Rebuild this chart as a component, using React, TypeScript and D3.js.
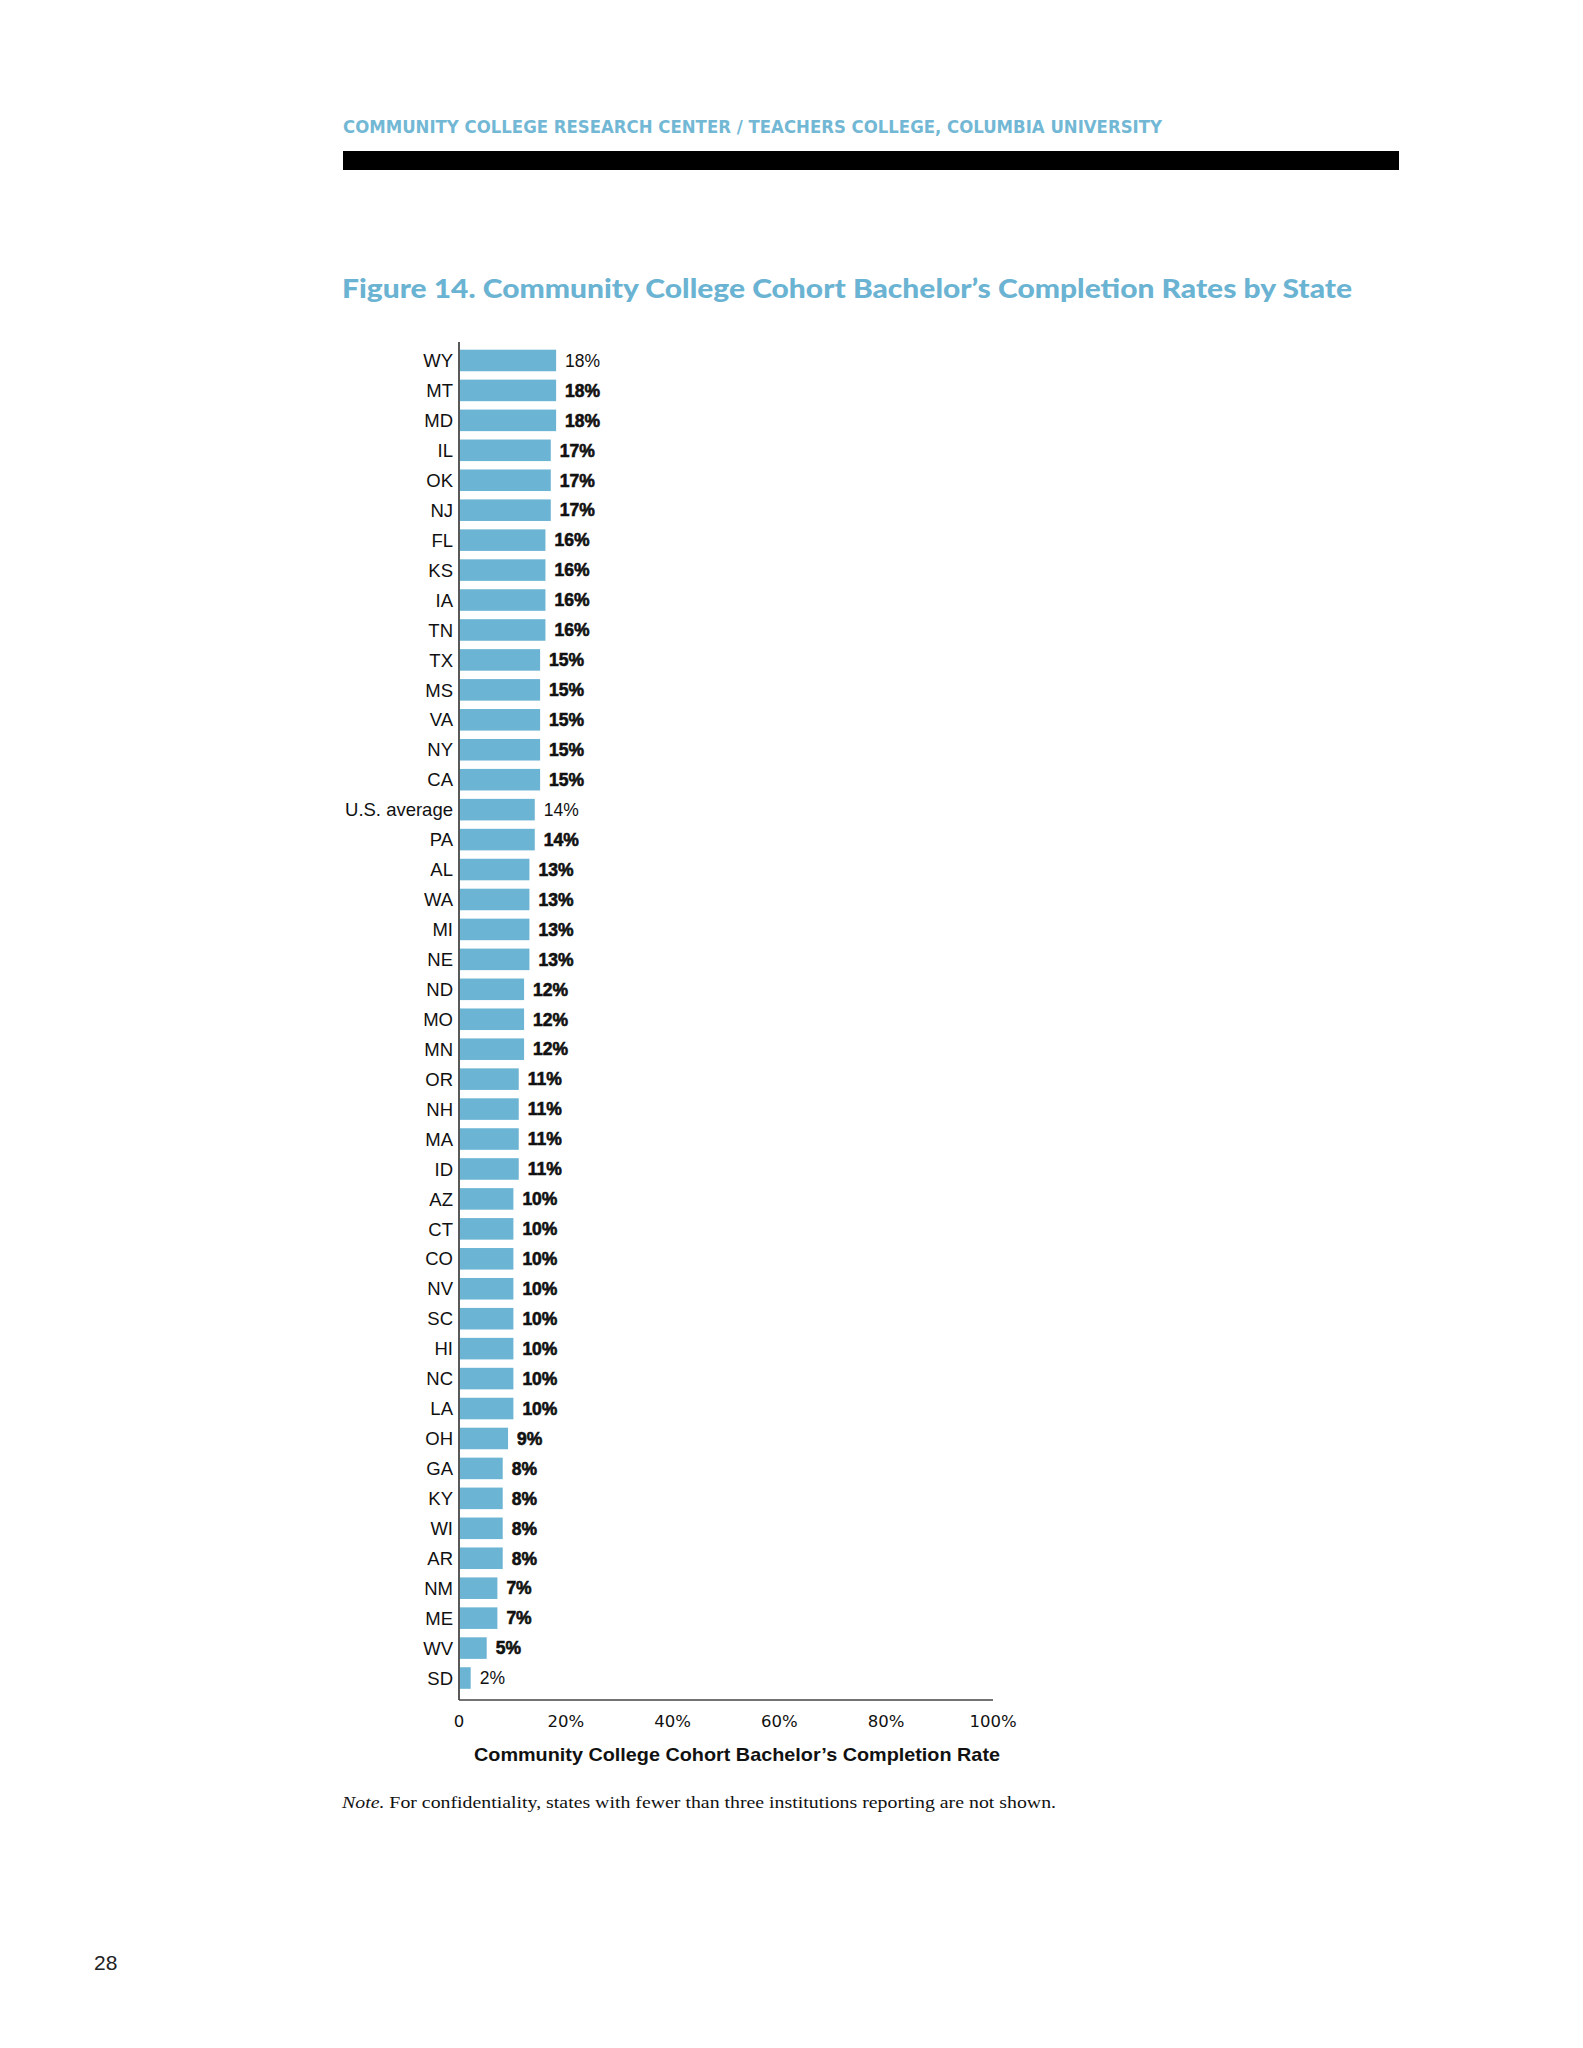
import React from "react";
import * as d3 from "d3";

const states = ["WY","MT","MD","IL","OK","NJ","FL","KS","IA","TN","TX","MS","VA","NY","CA","U.S. average","PA","AL","WA","MI","NE","ND","MO","MN","OR","NH","MA","ID","AZ","CT","CO","NV","SC","HI","NC","LA","OH","GA","KY","WI","AR","NM","ME","WV","SD"];
const rates = [18,18,18,17,17,17,16,16,16,16,15,15,15,15,15,14,14,13,13,13,13,12,12,12,11,11,11,11,10,10,10,10,10,10,10,10,9,8,8,8,8,7,7,5,2];
const regularLabels = ["WY","U.S. average","SD"];
const xTicks = [0,20,40,60,80,100];

const BLUE = "#6cb4d3";

export default function App() {
  const x = d3.scaleLinear().domain([0, 100]).range([459, 993]);
  const y = d3.scaleBand<string>().domain(states).range([345.5, 1693]).paddingInner(0.28).paddingOuter(0.14);
  const bw = y.bandwidth();
  return (
    <svg width={1583} height={2048} style={{ position: "absolute", left: 0, top: 0, background: "#fff" }}>
      <text x={343} y={133} fontFamily="'DejaVu Sans Condensed','DejaVu Sans',sans-serif" fontStretch="condensed" fontWeight={700} fontSize={17} fill="#72b8d5" textLength={819} lengthAdjust="spacingAndGlyphs">COMMUNITY COLLEGE RESEARCH CENTER / TEACHERS COLLEGE, COLUMBIA UNIVERSITY</text>
      <rect x={343} y={151} width={1056} height={19} fill="#000" />
      <text x={342} y={298} fontFamily="Lato, 'Open Sans', sans-serif" fontWeight={900} fontSize={27} fill="#6ab3d2" textLength={1010} lengthAdjust="spacingAndGlyphs">Figure 14. Community College Cohort Bachelor’s Completion Rates by State</text>

      {states.map((s, i) => {
        const yy = y(s)!;
        const v = rates[i];
        const reg = regularLabels.includes(s);
        return (
          <g key={s}>
            <rect x={x(0) + 1} y={yy} width={x(v) - x(0)} height={bw} fill={BLUE} />
            <text x={453} y={yy + bw / 2} dy="0.36em" textAnchor="end" fontFamily="'Liberation Sans', Arial, sans-serif" fontSize={18.5} fill="#111">{s}</text>
            <text x={x(v) + 10} y={yy + bw / 2} dy="0.36em" fontFamily="'Liberation Sans', Arial, sans-serif" fontWeight={reg ? 400 : 700} fontSize={17.5} fill="#111" stroke={reg ? "none" : "#111"} strokeWidth={reg ? 0 : 0.6}>{v}%</text>
          </g>
        );
      })}

      <line x1={459} x2={459} y1={342} y2={1700} stroke="#222" strokeWidth={1.5} />
      <line x1={459} x2={x(100)} y1={1700} y2={1700} stroke="#444" strokeWidth={1.5} />
      {xTicks.map(t => (
        <text key={t} x={x(t)} y={1727} textAnchor="middle" fontFamily="'DejaVu Sans', sans-serif" fontSize={16.5} fill="#111">{t === 0 ? "0" : `${t}%`}</text>
      ))}
      <text x={737} y={1761} textAnchor="middle" fontFamily="'Liberation Sans', Arial, sans-serif" fontWeight={700} fontSize={18.5} fill="#111" textLength={526} lengthAdjust="spacingAndGlyphs">Community College Cohort Bachelor’s Completion Rate</text>

      <text x={342} y={1808} fontFamily="'Liberation Serif', 'DejaVu Serif', serif" fontSize={17} fill="#111" textLength={714} lengthAdjust="spacingAndGlyphs"><tspan fontStyle="italic">Note.</tspan> For confidentiality, states with fewer than three institutions reporting are not shown.</text>

      <text x={94} y={1970} fontFamily="'Liberation Sans', Arial, sans-serif" fontSize={21} fill="#222">28</text>
    </svg>
  );
}
